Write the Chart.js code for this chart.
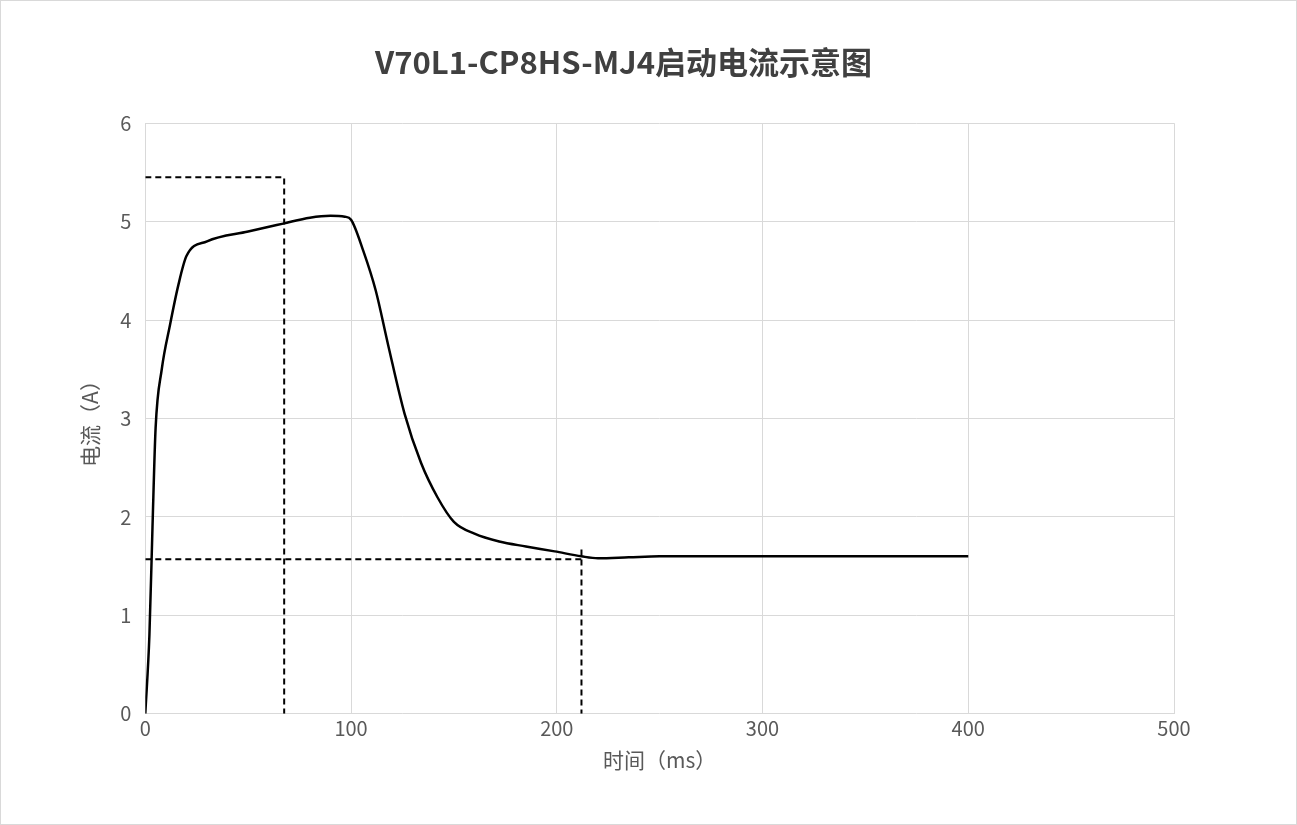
<!DOCTYPE html>
<html>
<head>
<meta charset="utf-8">
<script src="https://cdn.jsdelivr.net/npm/chart.js@4"></script>
<style>
  html, body { margin: 0; background: #fff; }
  #wrap { width: 1295px; height: 823px; border: 1px solid #d9d9d9; }
</style>
</head>
<body>
<div id="wrap"><canvas id="c"></canvas></div>
<script>
// startup current curve (ms, A)
const timeMs = [0, 2, 3.5, 5, 8, 12, 16, 20, 30, 50, 67, 80, 90, 97, 100, 106, 112, 118, 126, 134, 142, 150, 160, 172, 185, 199, 212, 220, 235, 250, 300, 350, 400];
const currentA = [0, 0.8, 1.9, 2.9, 3.5, 3.95, 4.35, 4.65, 4.8, 4.9, 4.98, 5.04, 5.06, 5.05, 5.02, 4.7, 4.3, 3.75, 3.05, 2.55, 2.2, 1.95, 1.83, 1.75, 1.7, 1.65, 1.6, 1.58, 1.59, 1.6, 1.6, 1.6, 1.6];
// dashed markers
const peakX = [0, 67.5, 67.5];
const peakY = [5.45, 5.45, 0];
const steadyX = [0, 212, 212];
const steadyY = [1.57, 1.57, 0];
const steadyTopY = 1.67;

const pts = (xs, ys) => xs.map((x, i) => ({ x: x, y: ys[i] }));
const font = '"Noto Sans CJK SC", "Noto Sans", sans-serif';
const dashed = { showLine: true, borderColor: '#000', borderWidth: 2, borderDash: [6, 4], pointRadius: 0 };

new Chart(document.getElementById('c'), {
  type: 'scatter',
  data: {
    datasets: [
      {
        data: pts(timeMs, currentA),
        showLine: true,
        borderColor: '#000',
        borderWidth: 2.5,
        pointRadius: 0,
        cubicInterpolationMode: 'monotone'
      },
      Object.assign({ data: pts(peakX, peakY) }, dashed),
      Object.assign({ data: [{ x: steadyX[0], y: steadyY[0] }, { x: steadyX[1], y: steadyY[1] }] }, dashed),
      Object.assign({ data: [{ x: steadyX[1], y: steadyTopY }, { x: steadyX[2], y: steadyY[2] }] }, dashed)
    ]
  },
  options: {
    responsive: true,
    maintainAspectRatio: false,
    animation: false,
    layout: { padding: { left: 72, right: 122, top: 10, bottom: 47 } },
    scales: {
      x: {
        type: 'linear',
        min: 0,
        max: 500,
        ticks: { stepSize: 100, color: '#595959', font: { family: font, size: 20 } },
        grid: { color: '#d9d9d9', drawTicks: false },
        border: { display: false },
        title: { display: true, text: '时间（ms）', color: '#595959', font: { family: font, size: 21 } }
      },
      y: {
        min: 0,
        max: 6,
        ticks: { stepSize: 1, color: '#595959', padding: 14, font: { family: font, size: 20 } },
        grid: { color: '#d9d9d9', drawTicks: false },
        border: { display: false },
        title: { display: true, text: '电流（A）', color: '#595959', font: { family: font, size: 21 } }
      }
    },
    plugins: {
      legend: { display: false },
      tooltip: { enabled: false },
      title: {
        display: true,
        text: 'V70L1-CP8HS-MJ4启动电流示意图',
        color: '#404040',
        font: { family: font, size: 31, weight: 'bold' },
        padding: { top: 33, bottom: 42 }
      }
    }
  }
});
</script>
</body>
</html>
